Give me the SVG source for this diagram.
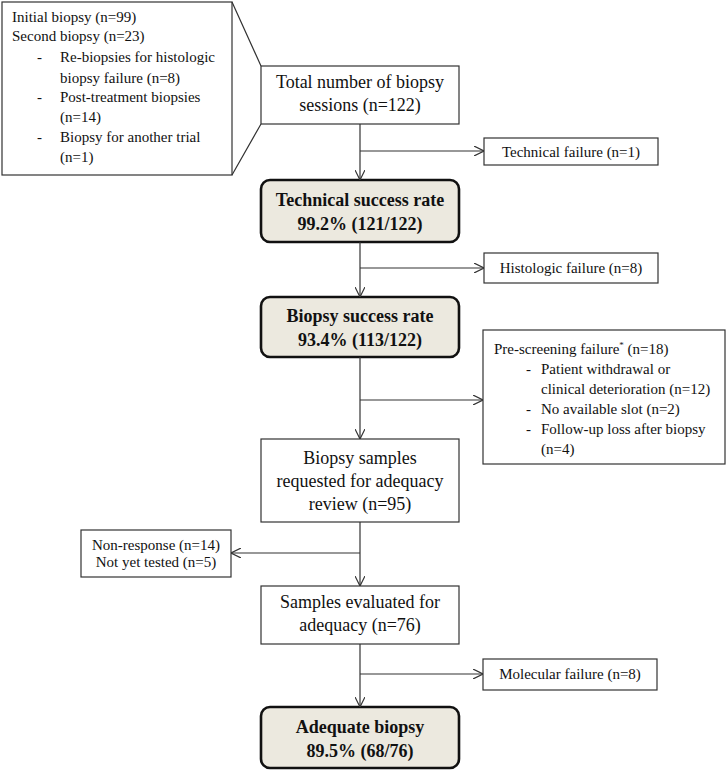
<svg xmlns="http://www.w3.org/2000/svg" width="727" height="771" viewBox="0 0 727 771" font-family="'Liberation Serif', 'DejaVu Serif', serif">
<style>
text{font-family:"Liberation Serif","DejaVu Serif",serif;fill:#111}
.box{fill:#fff;stroke:#333;stroke-width:1.2}
.key{fill:#ece9df;stroke:#111;stroke-width:2.6}
.m{font-size:18px;text-anchor:middle}
.b{font-size:18px;font-weight:bold;text-anchor:middle}
.s{font-size:15px}
.sc{font-size:15px;text-anchor:middle}
.ln{fill:none;stroke:#333;stroke-width:1.2}
</style>
<defs>
<marker id="ah" viewBox="0 0 10 10" refX="10" refY="5" markerWidth="10" markerHeight="10" markerUnits="userSpaceOnUse" orient="auto">
<path d="M0,0 L10,5 L0,10" fill="none" stroke="#333" stroke-width="1.2"/>
</marker>
</defs>
<rect width="727" height="771" fill="#fff"/>
<g id="callout">
<rect class="box" x="2" y="2" width="230" height="173"/>
<path class="ln" d="M232,2 L261,66 M232,175 L261,124"/>
<text class="s" x="12" y="22">Initial biopsy (n=99)</text>
<text class="s" x="12" y="41">Second biopsy (n=23)</text>
<text class="s" x="37" y="62">-</text>
<text class="s" x="60" y="62">Re-biopsies for histologic</text>
<text class="s" x="60" y="83">biopsy failure (n=8)</text>
<text class="s" x="37" y="102">-</text>
<text class="s" x="60" y="102">Post-treatment biopsies</text>
<text class="s" x="60" y="122">(n=14)</text>
<text class="s" x="37" y="142">-</text>
<text class="s" x="60" y="142">Biopsy for another trial</text>
<text class="s" x="60" y="162">(n=1)</text>
</g>
<g id="total">
<rect class="box" x="261" y="66" width="198" height="58"/>
<text class="m" x="360" y="88">Total number of biopsy</text>
<text class="m" x="360" y="111">sessions (n=122)</text>
</g>
<g id="techfail">
<rect class="box" x="484" y="138" width="174" height="27"/>
<text class="sc" x="571" y="157">Technical failure (n=1)</text>
</g>
<g id="techsuccess">
<rect class="key" x="261" y="180" width="198" height="62" rx="9"/>
<text class="b" x="360" y="206">Technical success rate</text>
<text class="b" x="360" y="230">99.2% (121/122)</text>
</g>
<g id="histfail">
<rect class="box" x="484" y="253" width="174" height="30"/>
<text class="sc" x="571" y="273">Histologic failure (n=8)</text>
</g>
<g id="biopsysuccess">
<rect class="key" x="261" y="297" width="198" height="60" rx="9"/>
<text class="b" x="360" y="322">Biopsy success rate</text>
<text class="b" x="360" y="346">93.4% (113/122)</text>
</g>
<g id="prescreen">
<rect class="box" x="483" y="330" width="242" height="134"/>
<text class="s" x="494" y="354">Pre-screening failure<tspan font-size="9" dy="-6">*</tspan><tspan dy="6"> (n=18)</tspan></text>
<text class="s" x="526" y="374">-</text>
<text class="s" x="541" y="374">Patient withdrawal or</text>
<text class="s" x="541" y="394">clinical deterioration (n=12)</text>
<text class="s" x="526" y="414">-</text>
<text class="s" x="541" y="414">No available slot (n=2)</text>
<text class="s" x="526" y="434">-</text>
<text class="s" x="541" y="434">Follow-up loss after biopsy</text>
<text class="s" x="541" y="454">(n=4)</text>
</g>
<g id="requested">
<rect class="box" x="261" y="439" width="198" height="83"/>
<text class="m" x="360" y="464">Biopsy samples</text>
<text class="m" x="360" y="487">requested for adequacy</text>
<text class="m" x="360" y="510">review (n=95)</text>
</g>
<g id="nonresponse">
<rect class="box" x="81" y="530" width="150" height="47"/>
<text class="sc" x="156" y="550">Non-response (n=14)</text>
<text class="sc" x="156" y="567">Not yet tested (n=5)</text>
</g>
<g id="evaluated">
<rect class="box" x="261" y="586" width="198" height="58"/>
<text class="m" x="360" y="608">Samples evaluated for</text>
<text class="m" x="360" y="631">adequacy (n=76)</text>
</g>
<g id="molfail">
<rect class="box" x="483" y="659" width="174" height="31"/>
<text class="sc" x="570" y="679">Molecular failure (n=8)</text>
</g>
<g id="adequate">
<rect class="key" x="261" y="707" width="198" height="61" rx="9"/>
<text class="b" x="360" y="733">Adequate biopsy</text>
<text class="b" x="360" y="757">89.5% (68/76)</text>
</g>
<g id="connectors">
<path class="ln" d="M360,124 V180" marker-end="url(#ah)"/>
<path class="ln" d="M360,151 H484" marker-end="url(#ah)"/>
<path class="ln" d="M360,242 V297" marker-end="url(#ah)"/>
<path class="ln" d="M360,268 H484" marker-end="url(#ah)"/>
<path class="ln" d="M360,357 V439" marker-end="url(#ah)"/>
<path class="ln" d="M360,400 H483" marker-end="url(#ah)"/>
<path class="ln" d="M360,522 V586" marker-end="url(#ah)"/>
<path class="ln" d="M360,553 H231" marker-end="url(#ah)"/>
<path class="ln" d="M360,644 V707" marker-end="url(#ah)"/>
<path class="ln" d="M360,674 H483" marker-end="url(#ah)"/>
</g>
</svg>
